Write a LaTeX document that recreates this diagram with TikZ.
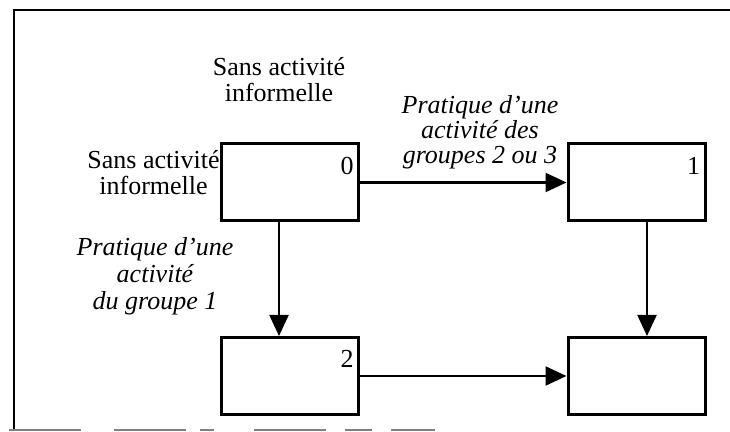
\documentclass[tikz,border=0pt]{standalone}
\usepackage{fontspec}
\setmainfont{Liberation Serif}
\usetikzlibrary{arrows.meta}

\begin{document}
\begin{tikzpicture}[x=0.5pt, y=-0.5pt, font=\fontsize{13}{13.2}\selectfont,
  etat/.style={draw, line width=1.5pt, minimum width=68.5pt, minimum height=38.5pt, inner sep=0pt},
  fleche/.style={line width=1.1pt, -{Triangle[length=10.5pt, width=9.5pt]}},
  lbl/.style={align=center, inner sep=0pt}]
  \useasboundingbox (0,0) rectangle (730,432);
  % 外框（右侧无边，底边为扫描残线）
  \draw[line width=1.1pt] (730,10) -- (14,10) -- (14,430);
  \foreach \a/\b in {9/81, 114/186, 200/214, 254/326, 345/372, 391/435}
    \draw[gray, line width=1pt] (\a,430) -- (\b,430);
  % 四个状态框
  \node[etat] (b0) at (290,182.5) {};
  \node[etat] (b1) at (636.5,182.5) {};
  \node[etat] (b2) at (290,376) {};
  \node[etat] (b3) at (636.5,376) {};
  % 状态编号
  \foreach \n in {0,1,2}
    \node[anchor=base east, inner sep=0pt] (num\n) at ([xshift=-3pt, yshift=-16pt]b\n.north east) {\n};
  % 转移箭头
  \draw[fleche] (b0) -- (b1);
  \draw[fleche] (b2) -- (b3);
  \draw[fleche] ([xshift=-5.5pt]b0.south) -- ([xshift=-5.5pt]b2.north);
  \draw[fleche] ([xshift=5.25pt]b1.south) -- ([xshift=5.25pt]b3.north);
  % 文字标注
  \node[lbl, anchor=north] (sansH) at (279,57) {Sans activité\\informelle};
  \node[lbl, anchor=north east] (sansG) at (220,150) {Sans activité\\informelle};
  \node[lbl, anchor=north, font=\fontsize{13}{12.6}\selectfont\itshape] (prat01) at (480,95) {Pratique d'une\\activité des\\groupes 2 ou 3};
  \node[lbl, anchor=north, font=\fontsize{13}{13.6}\selectfont\itshape] (prat02) at (155,237) {Pratique d'une\\activité\\du groupe 1};
\end{tikzpicture}
\end{document}
